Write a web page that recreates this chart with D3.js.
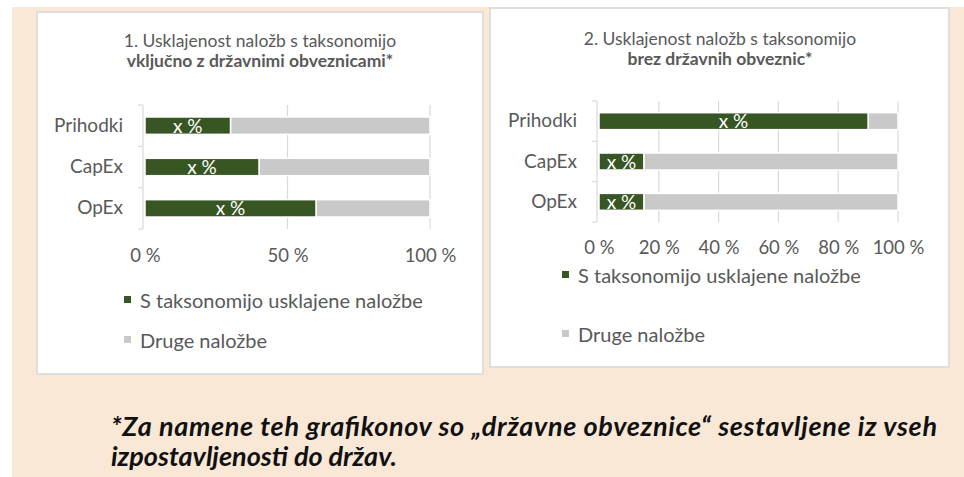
<!DOCTYPE html>
<meta charset="utf-8">
<style>
  body { margin: 0; background: #fff; }
  svg { display: block; font-family: Lato, "Open Sans", sans-serif; }
</style>
<svg width="964" height="477"></svg>
<script src="https://cdn.jsdelivr.net/npm/d3@7"></script>
<script>
  // data
  var categories = ["Prihodki", "CapEx", "OpEx"];
  var aligned1 = [30, 40, 60];      // panel 1: incl. sovereign bonds
  var aligned2 = [90, 15, 15];      // panel 2: excl. sovereign bonds
  var ticks1 = [0, 50, 100];
  var ticks2 = [0, 20, 40, 60, 80, 100];
  var seriesNames = ["S taksonomijo usklajene naložbe", "Druge naložbe"];
  var barLabel = "x %";

  var green = "#375623", grey = "#c9c9c9", textCol = "#595959";

  var svg = d3.select("svg");

  // beige background
  svg.append("rect").attr("x", 12).attr("y", 7).attr("width", 952).attr("height", 470)
    .attr("fill", "#fae8d6");

  function panel(opt) {
    var g = svg.append("g");
    g.append("rect")
      .attr("x", opt.box[0]).attr("y", opt.box[1])
      .attr("width", opt.box[2] - opt.box[0]).attr("height", opt.box[3] - opt.box[1])
      .attr("fill", "#fff").attr("stroke", "#dedede").attr("stroke-width", 2);

    g.append("text").attr("x", opt.titleX).attr("y", opt.titleY)
      .attr("text-anchor", "middle").attr("fill", textCol).style("font-size", "17.5px")
      .text(opt.title1);
    g.append("text").attr("x", opt.titleX).attr("y", opt.titleY + 20)
      .attr("text-anchor", "middle").attr("fill", textCol).style("font-size", "17.5px")
      .style("font-weight", "bold").text(opt.title2);

    var x = d3.scaleLinear().domain([0, 100]).range(opt.xr);
    var y = d3.scaleBand().domain(categories).range(opt.yr).paddingInner(0.58).paddingOuter(0.29);

    // gridlines
    g.selectAll(".grid").data(opt.ticks.slice(1)).enter().append("line")
      .attr("x1", d => x(d)).attr("x2", d => x(d))
      .attr("y1", opt.yr[0]).attr("y2", opt.yr[1])
      .attr("stroke", "#d9d9d9").attr("stroke-width", 1.2);

    // category axis (left bracket)
    var yAxis = g.append("g").attr("transform", "translate(" + (opt.xr[0] - 2) + ",0)")
      .call(d3.axisLeft(y).tickSize(0).tickPadding(opt.labelPad));
    yAxis.select(".domain").remove();
    yAxis.selectAll("text").attr("fill", textCol).style("font-size", "19px")
      .style("font-family", "Lato, sans-serif");
    var bounds = [opt.yr[0]].concat(categories.slice(1).map(c => y(c) - y.step() * y.paddingInner() / 2), [opt.yr[1]]);
    yAxis.append("line").attr("x1", 0).attr("x2", 0).attr("y1", opt.yr[0]).attr("y2", opt.yr[1])
      .attr("stroke", "#d9d9d9").attr("stroke-width", 1.2);
    yAxis.selectAll(".bt").data(bounds).enter().append("line")
      .attr("x1", -5).attr("x2", 0).attr("y1", d => d).attr("y2", d => d)
      .attr("stroke", "#d9d9d9").attr("stroke-width", 1.2);

    // bars
    var rows = categories.map((c, i) => ({ c: c, a: opt.data[i] }));
    g.selectAll(".other").data(rows).enter().append("rect")
      .attr("x", d => x(d.a)).attr("width", d => x(100) - x(d.a))
      .attr("y", d => y(d.c)).attr("height", y.bandwidth())
      .attr("fill", grey).attr("stroke", "#fff").attr("stroke-width", 1.5);
    g.selectAll(".al").data(rows).enter().append("rect")
      .attr("x", x(0)).attr("width", d => x(d.a) - x(0))
      .attr("y", d => y(d.c)).attr("height", y.bandwidth())
      .attr("fill", green).attr("stroke", "#fff").attr("stroke-width", 1.5);
    g.selectAll(".lbl").data(rows).enter().append("text")
      .attr("x", d => (x(0) + x(d.a)) / 2).attr("y", d => y(d.c) + y.bandwidth() / 2 + 7)
      .attr("text-anchor", "middle").attr("fill", "#fff").style("font-size", "19px")
      .text(barLabel);

    // x axis labels
    var xAxis = g.append("g").attr("transform", "translate(0," + opt.tickY + ")")
      .call(d3.axisBottom(x).tickValues(opt.ticks).tickSize(0).tickFormat(d => d + " %"));
    xAxis.select(".domain").remove();
    xAxis.selectAll("text").attr("fill", textCol).style("font-size", "18.5px")
      .style("font-family", "Lato, sans-serif");

    // legend
    var colors = [green, grey];
    var lg = g.selectAll(".lg").data(seriesNames).enter().append("g")
      .attr("transform", (d, i) => "translate(" + opt.legX + "," + opt.legY[i] + ")");
    lg.append("rect").attr("x", -16).attr("y", -12).attr("width", 7).attr("height", 7)
      .attr("fill", (d, i) => colors[i]);
    lg.append("text").attr("x", 0).attr("y", 0).attr("fill", textCol).style("font-size", "20px")
      .text(d => d);
  }

  panel({
    box: [37, 12, 483, 374], titleX: 260, titleY: 47,
    title1: "1. Usklajenost naložb s taksonomijo", title2: "vključno z državnimi obveznicami*",
    xr: [145, 430], yr: [105, 229], data: aligned1, ticks: ticks1, labelPad: 20,
    tickY: 246, legX: 140, legY: [308, 348]
  });
  panel({
    box: [490, 8, 949, 367], titleX: 720, titleY: 45,
    title1: "2. Usklajenost naložb s taksonomijo", title2: "brez državnih obveznic*",
    xr: [599, 898], yr: [101, 222], data: aligned2, ticks: ticks2, labelPad: 20,
    tickY: 238, legX: 578, legY: [283, 342]
  });

  // footnote
  var fn = svg.append("text").attr("fill", "#111")
    .style("font-size", "27px").style("font-weight", "bold").style("font-style", "italic");
  fn.append("tspan").attr("x", 111).attr("y", 436)
    .attr("textLength", 826).attr("lengthAdjust", "spacing")
    .text("*Za namene teh grafikonov so „državne obveznice“ sestavljene iz vseh");
  fn.append("tspan").attr("x", 111).attr("y", 466)
    .text("izpostavljenosti do držav.");
</script>
